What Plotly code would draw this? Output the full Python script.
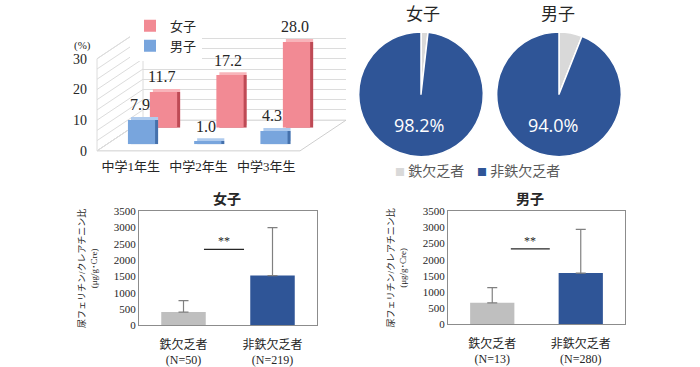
import plotly.graph_objects as go

# ---------------- data ----------------
grades = ["中学1年生", "中学2年生", "中学3年生"]
girls_pct = [11.7, 17.2, 28.0]
boys_pct = [7.9, 1.0, 4.3]
pct_ticks = [0, 10, 20, 30]

pie_labels = ["鉄欠乏者", "非鉄欠乏者"]
pie_girls = [1.8, 98.2]
pie_boys = [6.0, 94.0]

groups_girls = ["鉄欠乏者<br>(N=50)", "非鉄欠乏者<br>(N=219)"]
groups_boys = ["鉄欠乏者<br>(N=13)", "非鉄欠乏者<br>(N=280)"]
ferritin_girls = [410, 1530]
ferritin_girls_sd = [350, 1470]
ferritin_boys = [670, 1590]
ferritin_boys_sd = [470, 1350]
sig_girls = 2330
sig_boys = 2340
ferritin_ticks = [0, 500, 1000, 1500, 2000, 2500, 3000, 3500]

# ---------------- styling ----------------
W, H = 700, 367
S = 3.2          # px per percent on the 3D chart
D = 3            # px depth of the 3D bars
PINK, PINK_TOP, PINK_SIDE = "#F28A94", "#F8B4BA", "#BE4A55"
BLUE, BLUE_TOP, BLUE_SIDE = "#78A5DD", "#AFCBEE", "#4571AC"
GRAY, NAVY = "#D9D9D9", "#2F5597"
PIE_COLORS = [GRAY, NAVY]
BARGRAY = "#BFBFBF"
SERIF = "Liberation Serif, Noto Sans CJK JP"
GRID = "#DCDCDC"
TXT = "#262626"


def px(x):
    return x / W


def py(y):
    return 1 - y / H


def fx(a, b):
    return [px(a), px(b)]


def fy(bottom, top):
    return [py(bottom), py(top)]


fig = go.Figure()

# back wall axis (gridlines only)
fig.add_trace(go.Scatter(x=grades, y=[0, 0, 0], mode="none", showlegend=False,
                         hoverinfo="skip", xaxis="x", yaxis="y"))


def bar3d(vals, name, cols, axes):
    top_c, side_c, front_c = cols
    for c, (xa, ya), main in [(top_c, axes[0], False), (side_c, axes[1], False),
                              (front_c, axes[2], True)]:
        fig.add_trace(go.Bar(x=grades, y=vals, name=name, showlegend=main,
                             marker=dict(color=c, line_width=0), width=0.41,
                             hoverinfo="x+y" if main else "skip",
                             xaxis=xa, yaxis=ya, cliponaxis=False))


bar3d(girls_pct, "女子", (PINK_TOP, PINK_SIDE, PINK), [("x2", "y2"), ("x3", "y3"), ("x4", "y4")])
bar3d(boys_pct, "男子", (BLUE_TOP, BLUE_SIDE, BLUE), [("x5", "y5"), ("x6", "y6"), ("x7", "y7")])

# front axis for labels
fig.add_trace(go.Scatter(x=grades, y=[0, 0, 0], mode="none", showlegend=False,
                         hoverinfo="skip", xaxis="x8", yaxis="y8"))

# pies
for vals, dom in [(pie_girls, (356, 486)), (pie_boys, (494, 624))]:
    fig.add_trace(go.Pie(
        labels=pie_labels, values=vals, sort=False, direction="clockwise", rotation=0,
        domain=dict(x=fx(*dom), y=fy(156, 26)),
        marker=dict(colors=PIE_COLORS, line=dict(color="white", width=1.5)),
        text=["", f"{vals[1]:.1f}%"], textinfo="text", textposition="inside",
        insidetextfont=dict(color="white", size=18, family="Open Sans"),
        showlegend=False, hoverinfo="label+percent"))

# bottom bar charts
for xs, vals, sds, xa, ya in [(groups_girls, ferritin_girls, ferritin_girls_sd, "x9", "y9"),
                              (groups_boys, ferritin_boys, ferritin_boys_sd, "x10", "y10")]:
    fig.add_trace(go.Bar(
        x=xs, y=vals, width=0.5, marker=dict(color=[BARGRAY, NAVY], line_width=0),
        error_y=dict(type="data", array=sds, arrayminus=[0, 0], symmetric=False,
                     color="#808080", thickness=1.2, width=5),
        showlegend=False, xaxis=xa, yaxis=ya))

hidden_x = dict(visible=False, type="category", range=[-0.5, 2.5], fixedrange=True)
hidden_y = dict(visible=False, range=[0, 30], fixedrange=True)


def plane(x0, x1, base):
    return dict(hidden_x, domain=fx(x0, x1)), dict(hidden_y, domain=fy(base, base - 30 * S))


gx = (130.25, 329.75, 126)   # girls row
bx = (108.4, 307.1, 143)     # boys row

layout = dict(
    width=W, height=H, margin=dict(l=0, r=0, t=0, b=0),
    paper_bgcolor="white", plot_bgcolor="rgba(0,0,0,0)",
    barmode="overlay", font=dict(family=SERIF, color=TXT),
    xaxis=dict(hidden_x, domain=fx(143, 346)),
    yaxis=dict(range=[0, 30], domain=fy(118, 118 - 30 * S), showticklabels=False,
               showgrid=True, gridcolor=GRID, gridwidth=1, dtick=10 / 3, tick0=0,
               zeroline=False, showline=False, fixedrange=True),
    xaxis8=dict(type="category", range=[-0.5, 2.5], domain=fx(97, 300), showgrid=False,
                showline=False, zeroline=False, ticks="", ticklabelstandoff=6,
                tickfont=dict(family=SERIF, size=13, color=TXT), anchor="y8",
                fixedrange=True),
    yaxis8=dict(range=[0, 30], domain=fy(150, 150 - 30 * S), tickvals=pct_ticks,
                showgrid=False, zeroline=False, showline=False, ticks="",
                ticklabelstandoff=9, tickfont=dict(family=SERIF, size=14, color=TXT),
                anchor="x8", fixedrange=True),
    legend=dict(x=px(130), y=py(4), xanchor="left", yanchor="top", bgcolor="white",
                font=dict(family=SERIF, size=13, color=TXT), traceorder="normal",
                borderwidth=0, itemwidth=30),
)
# top face (shift right+up), side face (shift right), front face
layout["xaxis2"], layout["yaxis2"] = plane(gx[0] + D, gx[1] + D, gx[2] - D)
layout["xaxis3"], layout["yaxis3"] = plane(gx[0] + D, gx[1] + D, gx[2])
layout["xaxis4"], layout["yaxis4"] = plane(*gx)
layout["xaxis5"], layout["yaxis5"] = plane(bx[0] + D, bx[1] + D, bx[2] - D)
layout["xaxis6"], layout["yaxis6"] = plane(bx[0] + D, bx[1] + D, bx[2])
layout["xaxis7"], layout["yaxis7"] = plane(*bx)

for xa, ya, xd, yd in [("xaxis9", "yaxis9", (139, 317), (332, 213)),
                       ("xaxis10", "yaxis10", (448, 625), (331, 213))]:
    layout[xa] = dict(domain=fx(*xd), anchor=ya.replace("axis", ""), showline=True,
                      mirror=True, linecolor="#8C8C8C", ticks="", showgrid=False,
                      ticklabelstandoff=8,
                      tickfont=dict(family=SERIF, size=12, color=TXT), fixedrange=True)
    layout[ya] = dict(domain=fy(*yd), anchor=xa.replace("axis", ""), range=[0, 3500],
                      tickvals=ferritin_ticks, showline=True, mirror=True,
                      linecolor="#8C8C8C", ticks="", showgrid=False, zeroline=False,
                      tickfont=dict(family=SERIF, size=11, color=TXT),
                      title=dict(text="尿フェリチン/クレアチニン比<br>(μg/g･Cre)",
                                 font=dict(family=SERIF, size=9, color=TXT), standoff=14),
                      fixedrange=True)
fig.update_layout(**layout)

# 3D frame shapes: side wall, floor
shapes = []


def path(points):
    return "M " + " L ".join(f"{px(x)},{py(y)}" for x, y in points) + " Z"


shapes.append(dict(type="path", xref="paper", yref="paper", layer="below",
                   path=path([(97, 150), (143, 118), (143, 22), (97, 54)]),
                   fillcolor="white", line=dict(color=GRID, width=1)))
shapes.append(dict(type="path", xref="paper", yref="paper", layer="below",
                   path=path([(97, 150), (300, 150), (346, 118), (143, 118)]),
                   fillcolor="white", line=dict(color="#CFCFCF", width=1)))
for i in range(10):
    v = i * 10 / 3
    shapes.append(dict(type="line", xref="paper", yref="paper", layer="below",
                       x0=px(97), y0=py(150 - S * v), x1=px(143), y1=py(118 - S * v),
                       line=dict(color=GRID, width=1)))

# significance lines
shapes.append(dict(type="line", xref="x9", yref="y9", x0=0.23, x1=0.68, y0=sig_girls,
                   y1=sig_girls, line=dict(color=TXT, width=1.3)))
shapes.append(dict(type="line", xref="x10", yref="y10", x0=0.21, x1=0.65, y0=sig_boys,
                   y1=sig_boys, line=dict(color=TXT, width=1.3)))
fig.update_layout(shapes=shapes)

ann = [
    dict(x=px(82), y=py(40), text="(%)", font=dict(family=SERIF, size=11)),
    dict(x=px(423), y=py(8), text="女子", font=dict(family=SERIF, size=17)),
    dict(x=px(558), y=py(8), text="男子", font=dict(family=SERIF, size=17)),
    dict(x=px(227), y=py(200), text="<b>女子</b>", font=dict(family=SERIF, size=14)),
    dict(x=px(530), y=py(201), text="<b>男子</b>", font=dict(family=SERIF, size=14)),
]
for a in ann:
    a.update(xref="paper", yref="paper", showarrow=False, xanchor="center", yanchor="middle")

# pie legend (shared by both pies)
for lab, col, x0 in zip(pie_labels, PIE_COLORS, [393, 475]):
    ann.append(dict(x=px(x0), y=py(170), xref="paper", yref="paper", showarrow=False,
                    xanchor="left", yanchor="middle",
                    text=f"<span style='color:{col};font-size:10px'>■</span> {lab}",
                    font=dict(family="Noto Sans CJK JP", size=14, color="#595959")))

# value labels above the 3D bars
for vals, xa, ya in [(girls_pct, "x4", "y4"), (boys_pct, "x7", "y7")]:
    for g, v in zip(grades, vals):
        ann.append(dict(x=g, y=v, xref=xa, yref=ya, text=f"{v:.1f}", showarrow=False,
                        yanchor="middle", yshift=15, xshift=-2,
                        font=dict(family=SERIF, size=16, color=TXT)))
ann.append(dict(x=0.455, y=sig_girls, xref="x9", yref="y9", text="**", showarrow=False,
                yshift=8, font=dict(family=SERIF, size=12)))
ann.append(dict(x=0.43, y=sig_boys, xref="x10", yref="y10", text="**", showarrow=False,
                yshift=8, font=dict(family=SERIF, size=12)))
fig.update_layout(annotations=ann)

# the page's default 8px body margin would shift the whole figure
fig.write_html("out.html", config={"displayModeBar": False},
               post_script="document.body.style.margin='0px';")
